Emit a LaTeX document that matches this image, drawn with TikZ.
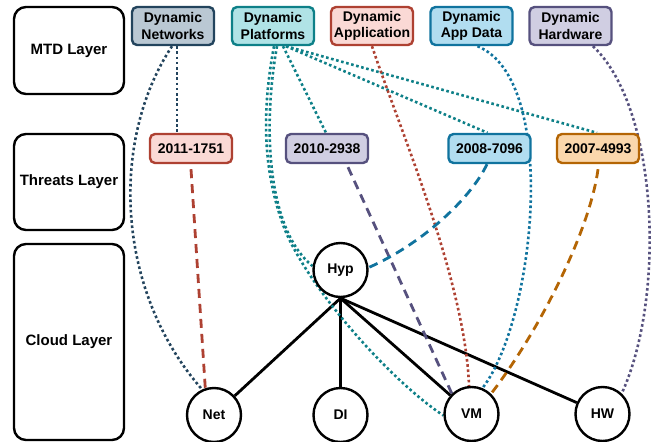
\documentclass[tikz,border=0pt]{standalone}
\usepackage{fontspec}
\setmainfont{Liberation Sans}
\usetikzlibrary{backgrounds}
\definecolor{dnF}{HTML}{BAC8D3}\definecolor{dnD}{HTML}{23445D}
\definecolor{dpF}{HTML}{B0E3E6}\definecolor{dpD}{HTML}{0E8088}
\definecolor{daF}{HTML}{FAD9D5}\definecolor{daD}{HTML}{AE4132}
\definecolor{ddF}{HTML}{B1DDF0}\definecolor{ddD}{HTML}{10739E}
\definecolor{dhF}{HTML}{D0CEE2}\definecolor{dhD}{HTML}{56517E}
\definecolor{orF}{HTML}{FAD7AC}\definecolor{orD}{HTML}{B46504}
\begin{document}
\begin{tikzpicture}[x=1pt,y=-1pt,
  layerbox/.style={draw=black, line width=2.4pt, rounded corners=12pt, minimum width=110pt, align=center, inner sep=0pt, font=\fontsize{15}{18}\selectfont\bfseries},
  mtdbox/.style={line width=2.4pt, rounded corners=5pt, minimum width=82pt, minimum height=38pt, inner sep=0pt, align=center, font=\fontsize{14}{16.5}\selectfont\bfseries},
  thrbox/.style={line width=2.4pt, rounded corners=5pt, minimum width=82pt, minimum height=29pt, inner sep=0pt, font=\fontsize{14}{16}\selectfont\bfseries},
  cnode/.style={circle, draw=black, line width=2.4pt, fill=white, minimum size=54pt, inner sep=0pt, font=\fontsize{14}{16}\selectfont\bfseries},
  dotl/.style={line width=2.6pt, dash pattern=on 2.6pt off 2.6pt},
  dashl/.style={line width=2.8pt, dash pattern=on 9pt off 6pt},
  solidl/.style={line width=2.8pt, draw=black}
]
\useasboundingbox (0,0) rectangle (654,442);
% layer boxes
\node[layerbox, minimum height=87pt] (mtd) at (69,50.5) {MTD Layer};
\node[layerbox, minimum height=96pt] (thr) at (69,182) {Threats Layer};
\node[layerbox, minimum height=196pt] (cld) at (69,342) {Cloud Layer};
% MTD nodes
\node[mtdbox, draw=dnD, fill=dnF] (DN) at (173,26) {Dynamic\\Networks};
\node[mtdbox, draw=dpD, fill=dpF] (DP) at (273,26) {Dynamic\\Platforms};
\node[mtdbox, draw=daD, fill=daF] (DA) at (372,26) {Dynamic\\Application};
\node[mtdbox, draw=ddD, fill=ddF] (DD) at (471.5,26) {Dynamic\\App Data};
\node[mtdbox, draw=dhD, fill=dhF] (DH) at (570.5,26) {Dynamic\\Hardware};
% threat nodes
\node[thrbox, draw=daD, fill=daF] (T1) at (191,148.5) {2011-1751};
\node[thrbox, draw=dhD, fill=dhF] (T2) at (327,148.5) {2010-2938};
\node[thrbox, draw=ddD, fill=ddF] (T3) at (489.5,148.5) {2008-7096};
\node[thrbox, draw=orD, fill=orF] (T4) at (598,148.5) {2007-4993};
% cloud nodes
\node[cnode] (Hyp) at (340.5,270) {Hyp};
\node[cnode] (Net) at (214,415) {Net};
\node[cnode] (DI) at (340.5,415) {DI};
\node[cnode] (VM) at (471.5,414) {VM};
\node[cnode] (HW) at (602.5,414) {HW};
\begin{pgfonlayer}{background}
% solid cloud links
\draw[solidl] (Hyp.south) -- (Net);
\draw[solidl] (Hyp.south) -- (DI);
\draw[solidl] (Hyp.south) -- (VM);
\draw[solidl] (Hyp.south) -- (HW);
% MTD dotted links
\draw[dotl, draw=dnD] ([xshift=4pt]DN.south) -- ([xshift=-14pt]T1.north);
\draw[dotl, draw=dnD] ([xshift=-1pt]DN.south) .. controls (110,140) and (115,290) .. (Net.115);
\draw[dotl, draw=dpD] ([xshift=4pt]DP.south) .. controls (262,130) and (268,230) .. (Hyp.172);
\draw[dotl, draw=dpD] ([xshift=1pt]DP.south) .. controls (262,110) and (262,170) .. (285,230) .. controls (310,290) and (390,380) .. (VM.183);
\draw[dotl, draw=dpD] ([xshift=10pt]DP.south) -- ([xshift=-1pt]T2.north);
\draw[dotl, draw=dpD] ([xshift=13pt]DP.south) -- ([xshift=-2pt]T3.north);
\draw[dotl, draw=dpD] ([xshift=13pt]DP.south) -- ([xshift=-1pt]T4.north);
\draw[dotl, draw=daD] (DA.south) .. controls (400,130) and (465,280) .. (VM.95);
\draw[dotl, draw=ddD] ([xshift=6pt]DD.south) .. controls (560,80) and (535,320) .. (VM.67);
\draw[dotl, draw=dhD] ([xshift=22.5pt]DH.south) .. controls (660,110) and (665,300) .. (HW.47);
% threat dashed links
\draw[dashl, draw=daD] ([yshift=-5pt]T1.south) -- (Net.108);
\draw[dashl, draw=dhD] ([xshift=21pt,yshift=-3pt]T2.south) -- (VM.134);
\draw[dashl, draw=ddD] ([xshift=-2.5pt]T3.south) .. controls (470,200) and (420,245) .. (Hyp.5);
\draw[dashl, draw=orD] ([yshift=-5pt]T4.south) .. controls (590,230) and (540,330) .. (VM.46);
\end{pgfonlayer}
\end{tikzpicture}
\end{document}
